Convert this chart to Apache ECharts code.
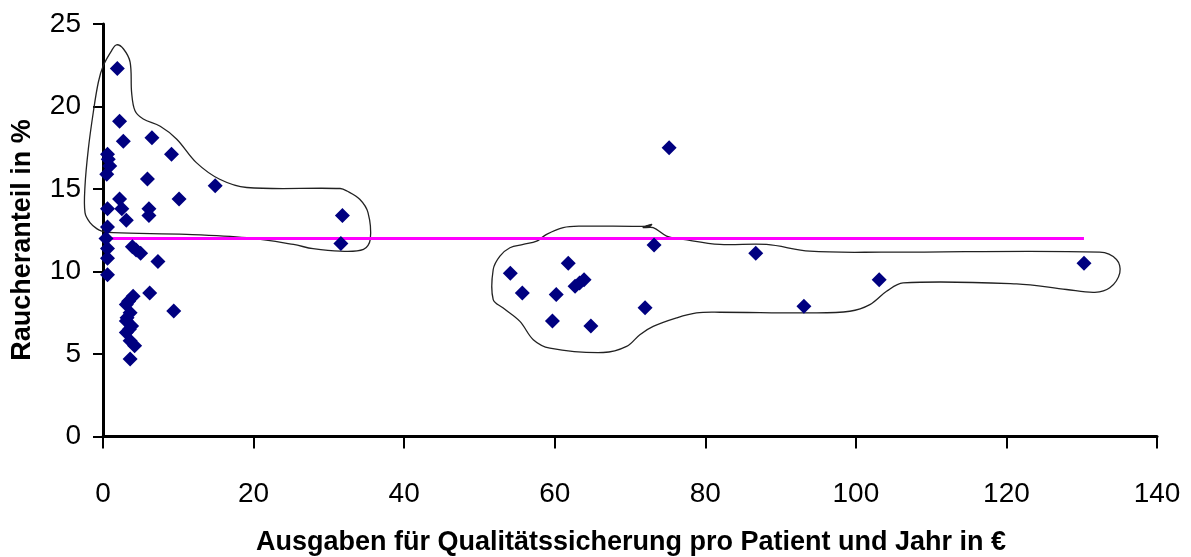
<!DOCTYPE html>
<html>
<head>
<meta charset="utf-8">
<script src="https://cdn.jsdelivr.net/npm/echarts@6/dist/echarts.min.js"></script>
<style>
html,body{margin:0;padding:0;background:#fff;}
#chart{width:1191px;height:557px;}
</style>
</head>
<body>
<div id="chart"></div>
<script>
// Data: expenditure per patient and year (€) vs smoker share (%)
const spending = [
  1.9, 2.2, 2.7, 6.5, 9.1, 0.6, 0.9, 0.5, 0.7, 5.9, 14.9, 2.2, 10.1, 0.6, 2.5, 6.1, 6.1, 3.1,
  0.6, 0.4, 0.6, 0.6, 0.6, 3.9, 4.4, 5.0, 7.3, 6.2, 9.4,
  4.0, 3.4, 3.1, 3.6, 3.2, 3.1, 3.8, 3.5, 3.1, 3.6, 4.2, 3.6,
  31.8, 31.6,
  75.2, 73.2, 54.1, 61.8, 55.7, 60.2, 62.7, 63.3, 63.9, 59.7, 64.8, 72.0,
  86.7, 103.1, 93.1, 130.3
];
const smokerShare = [
  22.3, 19.1, 17.9, 18.1, 17.1, 17.1, 16.4, 15.9, 16.8, 15.6, 15.2, 14.4, 14.4, 13.8, 13.8, 13.8, 13.4, 13.1,
  12.7, 12.0, 11.4, 10.8, 9.8, 11.5, 11.3, 11.1, 10.6, 8.7, 7.6,
  8.5, 8.2, 8.0, 7.5, 7.2, 7.0, 6.7, 6.5, 6.3, 5.8, 5.5, 4.7,
  13.4, 11.7,
  17.5, 11.6, 9.9, 10.5, 8.7, 8.6, 9.1, 9.3, 9.5, 7.0, 6.7, 7.8,
  11.1, 9.5, 7.9, 10.5
];
const meanShare = 12;
const meanRange = [0, 130.3];

// Hand-drawn group outlines (annotation, in data units)
const outlineLeftX = [-0.17, 1.37, 11.1, 19.1, 25.3, 27.9, 31.5, 34.6, 35.5, 35.2, 34.1, 32.4, 31.5, 19.1, 15.5, 12.4, 9.8, 7.6, 5.35, 4.25, 3.8, 3.6, 2.7, 1.8, 1.15, 0.04, -0.62, -1.29, -1.95, -2.39, -2.39, -1.73, -0.84];
const outlineLeftY = [12.45, 12.35, 12.25, 12.05, 11.64, 11.38, 11.23, 11.34, 11.95, 13.57, 14.38, 14.88, 15.03, 15.09, 15.59, 16.6, 18.02, 18.8, 19.24, 19.74, 20.86, 22.69, 23.5, 23.74, 23.39, 22.48, 21.47, 19.65, 17.42, 15.19, 13.57, 12.96, 12.6];
const outlineRightX = [72.64, 63.35, 61.13, 58.92, 57.6, 55.82, 54.05, 52.72, 51.83, 51.83, 53.16, 55.38, 57.15, 59.36, 66.44, 69.55, 71.31, 73.08, 76.19, 78.84, 81.93, 93.89, 99.2, 101.86, 104.08, 106.28, 121.34, 127.98, 131.74, 133.73, 135.06, 134.62, 132.4, 103.85, 93.89, 88.14, 81.94, 77.07, 74.86, 73.08, 71.75, 72.87];
const outlineRightY = [12.75, 12.75, 12.66, 12.25, 11.84, 11.64, 11.44, 10.93, 10.12, 8.3, 7.79, 6.98, 5.87, 5.36, 5.09, 5.46, 6.17, 6.67, 7.19, 7.49, 7.53, 7.49, 7.59, 7.99, 8.8, 9.31, 9.25, 8.91, 8.74, 9.01, 9.92, 10.73, 11.17, 11.17, 11.23, 11.64, 11.64, 11.95, 12.15, 12.66, 12.66, 12.86];

const xTitle = 'Ausgaben für Qualitätssicherung pro Patient und Jahr in €';
const yTitle = 'Raucheranteil in %';

const zip = (a, b) => a.map((v, i) => [v, b[i]]);
const font = '"Liberation Sans", Arial, sans-serif';
const outlines = [zip(outlineLeftX, outlineLeftY), zip(outlineRightX, outlineRightY)];

const chart = echarts.init(document.getElementById('chart'), null, {renderer: 'canvas'});
chart.setOption({
  animation: false,
  backgroundColor: '#ffffff',
  grid: {left: 103, right: 34, top: 24, bottom: 120.5},
  xAxis: {
    type: 'value', min: 0, max: 140, interval: 20,
    splitLine: {show: false},
    axisLine: {onZero: false, lineStyle: {color: '#000', width: 3}},
    axisTick: {show: true, inside: false, length: 12, lineStyle: {color: '#000', width: 2}},
    axisLabel: {color: '#000', fontSize: 28, fontFamily: font, margin: 44}
  },
  yAxis: {
    type: 'value', min: 0, max: 25, interval: 5,
    splitLine: {show: false},
    axisLine: {onZero: false, lineStyle: {color: '#000', width: 3}},
    axisTick: {show: true, inside: false, length: 10, lineStyle: {color: '#000', width: 2}},
    axisLabel: {color: '#000', fontSize: 28, fontFamily: font, margin: 22}
  },
  graphic: [
    {
      type: 'text', x: 631, y: 543,
      style: {text: xTitle, fill: '#000', font: 'bold 27px ' + font, align: 'center', verticalAlign: 'middle'}
    },
    {
      type: 'text', x: 23, y: 240, rotation: Math.PI / 2,
      style: {text: yTitle, fill: '#000', font: 'bold 27px ' + font, align: 'center', verticalAlign: 'middle'}
    }
  ],
  series: [
    {
      type: 'custom', data: [0, 1], clip: false, silent: true, z: 1,
      renderItem: (params, api) => ({
        type: 'polygon',
        shape: {points: outlines[params.dataIndex].map(p => api.coord(p)), smooth: 0.35},
        style: {stroke: '#222', fill: 'none', lineWidth: 1.3}
      })
    },
    {
      type: 'line', data: meanRange.map(x => [x, meanShare]), symbol: 'none',
      lineStyle: {color: '#ff00ff', width: 3}, z: 2, silent: true
    },
    {
      type: 'scatter', data: zip(spending, smokerShare), symbol: 'diamond', symbolSize: 15,
      itemStyle: {color: '#000080', opacity: 1}, z: 3
    }
  ]
});
</script>
</body>
</html>
